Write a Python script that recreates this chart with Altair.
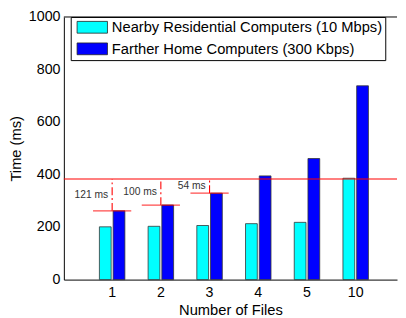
import altair as alt
import pandas as pd

files = ["1", "2", "3", "4", "5", "10"]
nearby = [201, 203, 206, 213, 218, 386]
farther = [262, 284, 329, 395, 461, 738]
series_names = ["Nearby Residential Computers (10 Mbps)", "Farther Home Computers (300 Kbps)"]
series_colors = ["#00FFFF", "#0000FF"]
threshold = 383
gap_files = ["1", "2", "3"]
gap_labels = ["121 ms", "100 ms", "54 ms"]
y_ticks = [0, 200, 400, 600, 800, 1000]

bars_df = pd.DataFrame({
    "files": files * 2,
    "series": [series_names[0]] * len(files) + [series_names[1]] * len(files),
    "time": nearby + farther,
})
gap_df = pd.DataFrame({
    "files": gap_files,
    "top": farther[:3],
    "label": gap_labels,
    "threshold": [threshold] * 3,
})
thr_df = pd.DataFrame({"threshold": [threshold]})
frame_df = pd.DataFrame({"ymax": [y_ticks[-1]]})

W, H = 340, 268
FONT = "Liberation Sans"

xscale = alt.Scale(domain=files, paddingInner=0, paddingOuter=0.42, align=0.585)
yscale = alt.Scale(domain=[y_ticks[0], y_ticks[-1]])

bars = alt.Chart(bars_df).mark_bar(stroke="#333333", strokeWidth=0.8).encode(
    x=alt.X("files:N", scale=xscale, sort=files,
            axis=alt.Axis(orient="bottom", title="Number of Files", ticks=False, labelAngle=0,
                          labelPadding=6, domainColor="black", grid=False,
                          titlePadding=4)),
    xOffset=alt.XOffset("series:N", sort=series_names,
                        scale=alt.Scale(paddingInner=0.143, paddingOuter=0.846)),
    y=alt.Y("time:Q", scale=yscale,
            axis=alt.Axis(orient="left", title="Time (ms)", values=y_ticks, format="d", ticks=False,
                          grid=False, domainColor="black", labelPadding=4, titlePadding=5)),
    color=alt.Color("series:N", sort=series_names,
                    scale=alt.Scale(domain=series_names, range=series_colors),
                    legend=alt.Legend(title=None, orient="none", legendX=7, legendY=0,
                                      fillColor="white", strokeColor="black", padding=3,
                                      labelFont=FONT, labelFontSize=15, labelColor="black",
                                      labelLimit=0,
                                      symbolType="M-2.214,-0.857H2.214V0.857H-2.214Z",
                                      symbolSize=196, symbolStrokeColor="#222222",
                                      symbolStrokeWidth=0.8, symbolOpacity=1,
                                      symbolOffset=11.5, labelOffset=12.5, rowPadding=5,
                                      cornerRadius=0)),
)

frame_top = alt.Chart(frame_df).mark_rule(stroke="black", strokeWidth=1, clip=False).encode(
    y=alt.Y("ymax:Q", scale=yscale, axis=None),
)

thr_line = alt.Chart(thr_df).mark_rule(stroke="#FF0000", strokeWidth=1.2).encode(
    y=alt.Y("threshold:Q", scale=yscale, axis=None),
)

segs = alt.Chart(gap_df).mark_tick(color="#FF0000", size=39, thickness=1.3, orient="horizontal").encode(
    x=alt.X("files:N", scale=xscale, axis=None),
    y=alt.Y("top:Q", scale=yscale, axis=None),
)

dashes = alt.Chart(gap_df).mark_rule(color="#FF0000", strokeDash=[8, 3, 2, 3], strokeWidth=1.1).encode(
    x=alt.X("files:N", scale=xscale, axis=None),
    y=alt.Y("top:Q", scale=yscale, axis=None),
    y2="threshold:Q",
)

texts = alt.Chart(gap_df).transform_calculate(
    mid="(datum.top + datum.threshold) / 2"
).mark_text(align="right", baseline="middle", dx=-4, fontSize=10.5, font=FONT, color="#333333").encode(
    x=alt.X("files:N", scale=xscale, axis=None),
    y=alt.Y("mid:Q", scale=yscale, axis=None),
    text="label:N",
)

chart = alt.layer(bars, frame_top, segs, dashes, texts, thr_line).resolve_axis(
    x="independent", y="independent"
).properties(
    width=W, height=H, autosize=alt.AutoSizeParams(type="none"),
    padding={"left": 57, "top": 6, "right": 1, "bottom": 36},
).configure_view(stroke="transparent", strokeWidth=0).configure_axis(
    labelFont=FONT, labelFontSize=14.5, labelColor="black",
    titleFont=FONT, titleFontSize=15, titleFontWeight="normal", titleColor="black",
)

chart.save("out.html", embed_options={"renderer": "svg", "actions": False})
